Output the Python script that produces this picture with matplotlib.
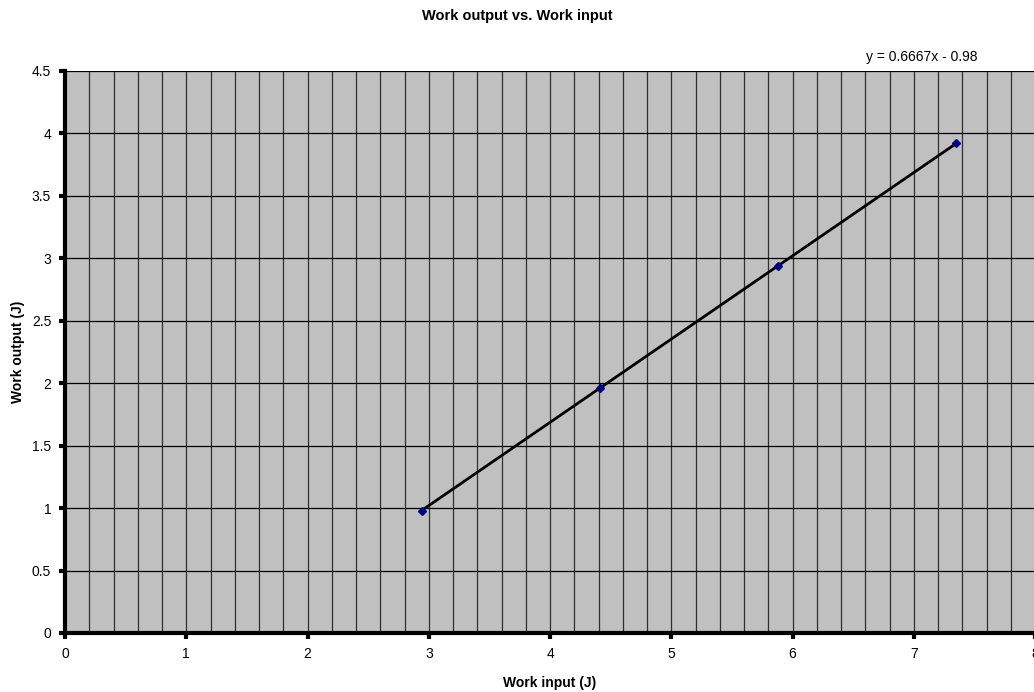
import numpy as np
import matplotlib.pyplot as plt
from matplotlib.ticker import MultipleLocator

plt.rcParams['font.family'] = ['Liberation Sans', 'DejaVu Sans']

# Data
work_input = [2.94, 4.41, 5.88, 7.35]
work_output = [0.98, 1.96, 2.94, 3.92]
trend_label = "y = 0.6667x - 0.98"

fig = plt.figure(figsize=(10.34, 6.92), dpi=100)
ax = fig.add_axes([0.0629, 0.0853, 0.9381, 0.8121])
ax.set_facecolor('#c0c0c0')

# Linear trendline through the points
slope, intercept = np.polyfit(work_input, work_output, 1)
xs = np.array([work_input[0], work_input[-1]])
ax.plot(xs, slope * xs + intercept, color='black', lw=2, zorder=3)
ax.plot(work_input, work_output, linestyle='none', marker='D', ms=4,
        color='#000080', zorder=4)

ax.set_xlim(0, 8)
ax.set_ylim(0, 4.5)
ax.xaxis.set_major_locator(MultipleLocator(1))
ax.xaxis.set_minor_locator(MultipleLocator(0.2))
ax.yaxis.set_major_locator(MultipleLocator(0.5))
ax.yaxis.set_major_formatter(plt.FuncFormatter(lambda v, p: f"{v:g}"))

ax.grid(which='minor', axis='x', color='#303030', lw=0.9)
ax.grid(which='major', axis='x', color='#303030', lw=0.9)
ax.grid(which='major', axis='y', color='black', lw=0.9)
ax.set_axisbelow(True)

for side in ['top', 'right']:
    ax.spines[side].set_visible(False)
ax.spines['left'].set_linewidth(3)
ax.spines['bottom'].set_linewidth(3)
ax.tick_params(which='major', direction='out', length=4, width=3,
               labelsize=10, pad=6)
ax.tick_params(which='minor', length=0)

ax.set_xlabel('Work input (J)', fontsize=10, fontweight='bold', labelpad=11)
ax.set_ylabel('Work output (J)', fontsize=10, fontweight='bold', labelpad=5)
fig.text(0.5, 0.977, 'Work output vs. Work input', ha='center', va='center',
         fontsize=10.5, fontweight='bold')
fig.text(0.838, 0.917, trend_label, ha='left', va='center', fontsize=10)

fig.savefig('out.png', dpi=100)
